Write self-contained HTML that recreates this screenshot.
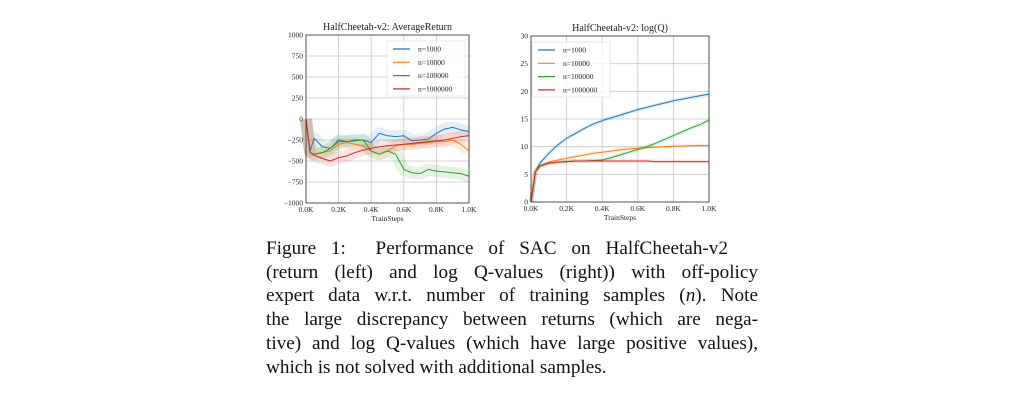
<!DOCTYPE html>
<html><head><meta charset="utf-8"><style>
body{margin:0;background:#fff;width:1013px;height:403px;overflow:hidden;position:relative;font-family:"Liberation Serif",serif}
#cap{position:absolute;left:266px;top:237px;width:492px;font-size:19.2px;line-height:23.7px;text-align:justify;color:#111}
#cap span{display:block;text-align-last:justify;white-space:nowrap}
#cap span.first{width:462px}
#cap span.last{text-align-last:left}
</style></head><body>
<svg id="chart" width="1013" height="230" style="position:absolute;left:0;top:0" font-family="Liberation Serif, serif"></svg>
<div id="cap">
<span class="first">Figure 1:&nbsp; Performance of SAC on HalfCheetah-v2</span>
<span>(return (left) and log Q-values (right)) with off-policy</span>
<span>expert data w.r.t. number of training samples (<i>n</i>). Note</span>
<span>the large discrepancy between returns (which are nega-</span>
<span>tive) and log Q-values (which have large positive values),</span>
<span class="last">which is not solved with additional samples.</span>
</div>
<script>
const xSteps=[0,0.025,0.05,0.1,0.15,0.2,0.25,0.3,0.35,0.4,0.45,0.5,0.55,0.6,0.65,0.7,0.75,0.8,0.85,0.9,0.95,1.0];
const seriesNames=["n=1000","n=10000","n=100000","n=1000000"];
const colors=["#1f77b4","#ff7f0e","#2ca02c","#d62728"];
const retBlue=[0,-380,-230,-330,-350,-250,-270,-250,-250,-280,-170,-200,-210,-200,-260,-250,-240,-170,-120,-100,-130,-150];
const retOrange=[0,-400,-420,-400,-380,-300,-280,-300,-320,-380,-420,-380,-320,-300,-300,-290,-280,-270,-270,-250,-300,-380];
const retGreen=[0,-400,-420,-400,-350,-270,-270,-260,-250,-380,-420,-380,-420,-600,-640,-650,-600,-620,-630,-640,-650,-680];
const retRed=[0,-400,-430,-470,-500,-460,-440,-400,-370,-350,-330,-320,-310,-300,-290,-280,-270,-260,-250,-230,-210,-200];
const qBlue=[0,5.5,7,8.8,10.3,11.5,12.4,13.3,14.1,14.7,15.2,15.7,16.2,16.7,17.1,17.5,17.9,18.3,18.6,18.9,19.2,19.5];
const qOrange=[0,5.5,6.5,7.2,7.6,7.9,8.2,8.5,8.8,9,9.2,9.4,9.6,9.7,9.8,9.9,10,10.1,10.1,10.2,10.2,10.2];
const qGreen=[0,5.5,6.5,7,7.2,7.3,7.4,7.4,7.5,7.6,8,8.5,9,9.5,10,10.6,11.3,12,12.7,13.4,14,14.8];
const qRed=[0,5.5,6.5,7,7.2,7.3,7.4,7.4,7.4,7.4,7.4,7.4,7.4,7.4,7.4,7.3,7.3,7.3,7.3,7.3,7.3,7.3];
const retTicks=[1000,750,500,250,0,-250,-500,-750,-1000];
const retTickLabels=["1000","750","500","250","0","\u2212250","\u2212500","\u2212750","\u22121000"];
const qTicks=[30,25,20,15,10,5,0];
const xTicks=[0,0.2,0.4,0.6,0.8,1.0];
const xTickLabels=["0.0K","0.2K","0.4K","0.6K","0.8K","1.0K"];
const NS="http://www.w3.org/2000/svg";
const svg=document.getElementById('chart');
function mk(tag,attrs,parent){const e=document.createElementNS(NS,tag);for(const k in attrs)e.setAttribute(k,attrs[k]);(parent||svg).appendChild(e);return e;}
function panel(p){
  const g=mk('g',{});
  
  
  const X=v=>p.x0+v*(p.x1-p.x0);
  const Y=v=>p.y1-(v-p.ymin)/(p.ymax-p.ymin)*(p.y1-p.y0);
  for(const t of xTicks){const gl=mk('line',{x1:X(t),x2:X(t),y1:p.y0,y2:p.y1,stroke:'#c8c8c8','stroke-width':0.8},g);}
  p.ticks.forEach((t,i)=>{const gl=mk('line',{x1:p.x0,x2:p.x1,y1:Y(t),y2:Y(t),stroke:'#c8c8c8','stroke-width':0.8},g);
    const tx=mk('text',{x:p.x0-3,y:Y(t)+2.5,'font-size':7.5,'text-anchor':'end',fill:'#222'},g);tx.textContent=p.labels[i];});
  xTicks.forEach((t,i)=>{const tx=mk('text',{x:X(t),y:p.y1+9,'font-size':7.5,'text-anchor':'middle',fill:'#222'},g);tx.textContent=xTickLabels[i];});
  p.series.forEach((s,i)=>{
    const pts=xSteps.map((x,j)=>X(x)+','+Y(s[j])).join(' ');
    const band=mk('polyline',{points:pts,fill:'none',stroke:colors[i],'stroke-width':p.band,'stroke-opacity':0.12,'stroke-linejoin':'round'},g);
    
    const l=mk('polyline',{points:pts,fill:'none',stroke:colors[i],'stroke-width':1,'stroke-linejoin':'round'},g);
    
  });
  const fr=mk('rect',{x:p.x0,y:p.y0,width:p.x1-p.x0,height:p.y1-p.y0,fill:'none',stroke:'#333','stroke-width':0.8},g);
  
  const ti=mk('text',{x:(p.x0+p.x1)/2,y:p.y0-5,'font-size':10,'text-anchor':'middle',fill:'#222'},g);ti.textContent=p.title;
  const xl=mk('text',{x:(p.x0+p.x1)/2,y:p.y1+18,'font-size':7.5,'text-anchor':'middle',fill:'#222'},g);xl.textContent='TrainSteps';
  const lg=mk('g',{},g);
  mk('rect',{x:p.lx-6,y:p.ly-8,width:78,height:55,fill:'#fff','fill-opacity':0.8,stroke:'#ddd','stroke-width':0.6},lg);
  seriesNames.forEach((n,i)=>{const yy=p.ly+i*13.3;
    const ll=mk('line',{x1:p.lx,x2:p.lx+17,y1:yy,y2:yy,stroke:colors[i],'stroke-width':1.2},lg);
    const lt=mk('text',{x:p.lx+25,y:yy+2.5,'font-size':7.5,fill:'#222'},lg);lt.textContent=n;});
}
panel({name:'average-return-chart',x0:306,x1:469,y0:35,y1:203,ymin:-1000,ymax:1000,ticks:retTicks,labels:retTickLabels,series:[retBlue,retOrange,retGreen,retRed],title:'HalfCheetah-v2:  AverageReturn',lx:393,ly:49,band:12});
panel({name:'log-q-chart',x0:531,x1:709,y0:36,y1:202,ymin:0,ymax:30,ticks:qTicks,labels:qTicks.map(String),series:[qBlue,qOrange,qGreen,qRed],title:'HalfCheetah-v2:  log(Q)',lx:538,ly:50,band:4});
</script>
</body></html>
